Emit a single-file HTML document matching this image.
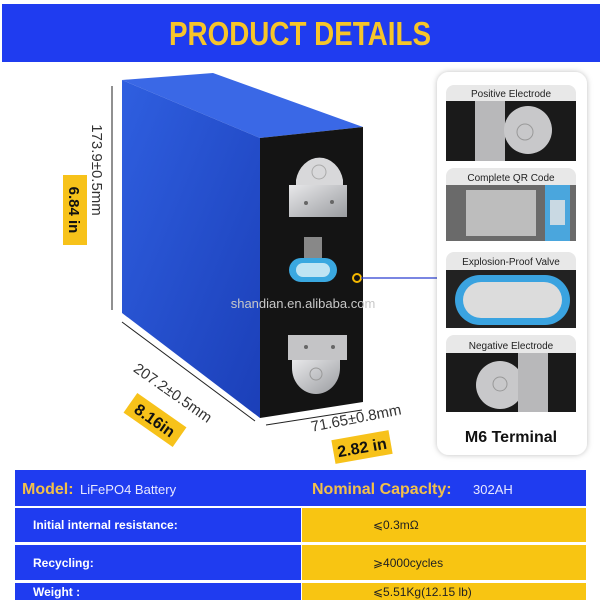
<!DOCTYPE html>
<html><head><meta charset="utf-8"><style>
body{margin:0;width:600px;height:600px;overflow:hidden;background:#fff;font-family:"Liberation Sans",sans-serif}
svg{display:block}
</style></head><body>
<svg width="600" height="600" viewBox="0 0 600 600" xmlns="http://www.w3.org/2000/svg" font-family="Liberation Sans, sans-serif">
<defs>
<linearGradient id="bl" x1="0" y1="0" x2="1" y2="1"><stop offset="0" stop-color="#2f5fe0"/><stop offset="1" stop-color="#1b3fb8"/></linearGradient>
<linearGradient id="met" x1="0" y1="0" x2="1" y2="1"><stop offset="0" stop-color="#e8e8ea"/><stop offset="1" stop-color="#9a9ca0"/></linearGradient>
<filter id="sh" x="-10%" y="-10%" width="120%" height="120%"><feDropShadow dx="0" dy="0" stdDeviation="3" flood-color="#000" flood-opacity="0.25"/></filter>
</defs>
<rect x="2" y="4" width="598" height="58" fill="#1f3cf0"/>
<text x="300" y="45" text-anchor="middle" font-size="33" font-weight="bold" fill="#f6c52a" textLength="262" lengthAdjust="spacingAndGlyphs">PRODUCT DETAILS</text>

<polygon points="122,80 213,73 363,127 260,138" fill="#3a68e6"/>
<polygon points="122,80 260,138 260,418 122,313" fill="url(#bl)"/>
<polygon points="260,138 363,127 363,402 260,418" fill="#141414"/>
<!-- top terminal -->
<path d="M296,180 A24,28 0 0 1 343,180 L343,190 L296,190 Z" fill="#d8d8da"/>
<rect x="289" y="185" width="58" height="32" fill="url(#met)"/>
<circle cx="319" cy="172" r="7" fill="none" stroke="#aaa"/>
<circle cx="306" cy="203" r="2" fill="#666"/><circle cx="332" cy="202" r="2" fill="#666"/>
<rect x="304" y="237" width="18" height="22" fill="#888"/>
<rect x="289" y="258" width="48" height="24" rx="12" fill="#3aa8e0"/>
<rect x="296" y="263" width="34" height="14" rx="7" fill="#bfe4f3"/>
<circle cx="357" cy="278" r="4" fill="none" stroke="#f5b800" stroke-width="2"/>
<line x1="361" y1="278" x2="437" y2="278" stroke="#2a3fd0" stroke-width="1.2"/>
<text x="303" y="308" text-anchor="middle" font-size="13" fill="#c8c8c8">shandian.en.alibaba.com</text>
<!-- bottom terminal -->
<rect x="288" y="335" width="59" height="25" fill="#c4c4c6"/>
<path d="M292,360 L340,360 L340,368 A24,26 0 0 1 292,368 Z" fill="url(#met)"/>
<circle cx="306" cy="347" r="2" fill="#666"/><circle cx="333" cy="347" r="2" fill="#666"/>
<circle cx="316" cy="374" r="6" fill="none" stroke="#999"/>

<line x1="112" y1="86" x2="112" y2="310" stroke="#222" stroke-width="1"/>
<text transform="translate(92,170) rotate(90)" text-anchor="middle" font-size="15" fill="#333">173.9±0.5mm</text>
<rect x="63" y="175" width="24" height="70" fill="#f7c21a"/>
<text transform="translate(69,210) rotate(90)" text-anchor="middle" font-size="15" font-weight="bold" fill="#111">6.84 in</text>

<line x1="122" y1="322" x2="255" y2="421" stroke="#222" stroke-width="1"/>
<text transform="translate(170,397) rotate(35)" text-anchor="middle" font-size="15" fill="#333">207.2±0.5mm</text>
<g transform="translate(155,420) rotate(35)"><rect x="-30" y="-12" width="60" height="24" fill="#f7c21a"/><text x="0" y="6" text-anchor="middle" font-size="16" font-weight="bold" fill="#111">8.16in</text></g>

<line x1="266" y1="425" x2="362" y2="410" stroke="#222" stroke-width="1"/>
<text transform="translate(357,423) rotate(-11)" text-anchor="middle" font-size="15" fill="#333">71.65±0.8mm</text>
<g transform="translate(362,447) rotate(-10)"><rect x="-29" y="-12" width="58" height="24" fill="#f7c21a"/><text x="0" y="6" text-anchor="middle" font-size="16" font-weight="bold" fill="#111">2.82 in</text></g>

<rect x="437" y="72" width="150" height="383" rx="12" fill="#fff" filter="url(#sh)"/>
<g font-size="10" text-anchor="middle" fill="#222">
<rect x="446" y="85" width="130" height="76" rx="8" fill="#e8e8e8"/>
<text x="511" y="97">Positive Electrode</text>
<rect x="446" y="101" width="130" height="60" fill="#1a1a1a"/>
<rect x="475" y="101" width="30" height="60" fill="#b8b8ba"/>
<circle cx="528" cy="130" r="24" fill="#c8c8ca"/>
<circle cx="525" cy="132" r="8" fill="none" stroke="#999"/>

<rect x="446" y="168" width="130" height="73" rx="8" fill="#e8e8e8"/>
<text x="511" y="181">Complete QR Code</text>
<rect x="446" y="185" width="130" height="56" fill="#6a6a6a"/>
<rect x="466" y="190" width="70" height="46" fill="#bdbdbd"/>
<rect x="545" y="185" width="25" height="56" fill="#4aa6dd"/>
<rect x="550" y="200" width="15" height="25" fill="#c9d9e3"/>

<rect x="446" y="252" width="130" height="76" rx="8" fill="#e8e8e8"/>
<text x="511" y="265">Explosion-Proof Valve</text>
<rect x="446" y="270" width="130" height="58" fill="#222"/>
<rect x="455" y="275" width="115" height="50" rx="25" fill="#3aa3e0"/>
<rect x="463" y="282" width="99" height="36" rx="18" fill="#dcdcdc"/>

<rect x="446" y="335" width="130" height="77" rx="8" fill="#e8e8e8"/>
<text x="511" y="349">Negative Electrode</text>
<rect x="446" y="353" width="130" height="59" fill="#1a1a1a"/>
<circle cx="500" cy="385" r="24" fill="#c8c8ca"/>
<rect x="518" y="353" width="30" height="59" fill="#b8b8ba"/>
<circle cx="500" cy="384" r="7" fill="none" stroke="#999"/>
</g>
<text x="511" y="442" text-anchor="middle" font-size="16" font-weight="bold" fill="#111">M6 Terminal</text>

<rect x="15" y="470" width="571" height="36" fill="#1f3cf0"/>
<text x="22" y="494" font-size="16" font-weight="bold" fill="#f2c04a">Model:</text>
<text x="80" y="494" font-size="13" fill="#e8e8ff">LiFePO4 Battery</text>
<text x="312" y="494" font-size="16" font-weight="bold" fill="#f2c04a">Nominal  Capaclty:</text>
<text x="473" y="494" font-size="13" fill="#e8e8ff">302AH</text>
<g font-size="12" font-weight="bold" fill="#fff">
<rect x="15" y="508" width="286" height="34" fill="#1f3cf0"/><rect x="302" y="508" width="284" height="34" fill="#f8c512"/>
<text x="33" y="529">Initial internal resistance:</text>
<rect x="15" y="545" width="286" height="35" fill="#1f3cf0"/><rect x="302" y="545" width="284" height="35" fill="#f8c512"/>
<text x="33" y="567">Recycling:</text>
<rect x="15" y="583" width="286" height="17" fill="#1f3cf0"/><rect x="302" y="583" width="284" height="17" fill="#f8c512"/>
<text x="33" y="596">Weight :</text>
</g>
<g font-size="12" fill="#222">
<text x="373" y="529">⩽0.3mΩ</text>
<text x="373" y="567">⩾4000cycles</text>
<text x="373" y="596">⩽5.51Kg(12.15 lb)</text>
</g>
</svg>
</body></html>
